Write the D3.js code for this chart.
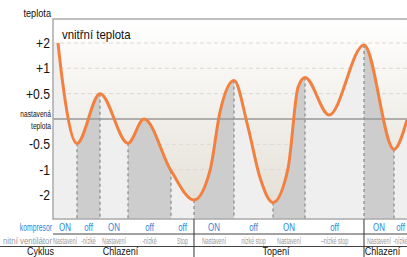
<!DOCTYPE html>
<html><head><meta charset="utf-8">
<script src="https://cdn.jsdelivr.net/npm/d3@7"></script>
<style>
body{margin:0;background:#fff;}
svg{display:block;font-family:"Liberation Sans",Arial,sans-serif;}
</style></head><body>
<div id="chart"></div>
<script>
// indoor temperature curve: time (0-100) and offset from set point
const curveTime = [1.41, 2.54, 6.78, 13.28, 21.19, 25.71, 33.33, 39.83, 44.35, 47.18, 51.13, 55.08, 58.47, 62.15, 66.38, 69.21, 71.19, 77.97, 87.85, 96.33, 100];
const curveTemp = [2.0, 0.82, -0.48, 0.5, -0.48, 0, -1.04, -2.2, -1.04, 0.14, 0.76, -0.16, -1.31, -2.3, -0.98, 0.62, 0.82, 0.08, 1.92, -0.6, -0.02];

const tickValues = [2, 1, 0.5, 0, -0.5, -1, -2];
const tickLabels = ['+2', '+1', '+0.5', 'nastavená|teplota', '-0.5', '-1', '-2'];

const phaseBreaks = [0, 6.78, 13.28, 21.19, 33.33, 39.83, 51.13, 62.15, 71.19, 87.85, 96.33, 100];
const kompresor = ['ON', 'off', 'ON', 'off', 'off', 'ON', 'off', 'ON', 'off', 'ON', 'off'];
const ventilator = ['Nastavení', '-nízké', 'Nastavení', '-nízké', 'Stop', 'Nastavení', 'nízké stop', 'Nastavení', '–nízké stop', 'Nastavení', '-nízké'];

const cycles = ['Chlazení', 'Topení', 'Chlazení'];
const cycleBreaks = [0, 39.83, 87.85, 100];

const W = 407, H = 257;
const margin = {top: 19, left: 53};
const plotH = 200, pad = 24;
const plotBottom = margin.top + plotH;
const step = (plotH - 2 * pad) / (tickValues.length - 1);

const x = d3.scaleLinear().domain([0, 100]).range([margin.left, W]);
const y = d3.scaleLinear()
  .domain(tickValues)
  .range(tickValues.map((d, i) => margin.top + pad + i * step));

const points = curveTime.map((t, i) => ({t: t, v: curveTemp[i]}));

const svg = d3.select('#chart').append('svg')
  .attr('width', W)
  .attr('height', H);

// condensed text: translate to anchor point, then squeeze horizontally
function squeeze(px, py, sx) {
  return 'translate(' + px + ',' + py + ') scale(' + sx + ',1)';
}
function label(parent, px, py, s, size, sx, anchor, fill) {
  return parent.append('text')
    .attr('transform', squeeze(px, py, sx))
    .attr('text-anchor', anchor || 'start')
    .attr('font-size', size)
    .attr('fill', fill || '#111')
    .text(s);
}

const defs = svg.append('defs');
const grad = defs.append('linearGradient')
  .attr('id', 'bg')
  .attr('x1', 0).attr('y1', 0).attr('x2', 0).attr('y2', 1);
grad.append('stop').attr('offset', '0%').attr('stop-color', '#ffffff');
grad.append('stop').attr('offset', '100%').attr('stop-color', '#e5e1d8');

const line = d3.line()
  .curve(d3.curveMonotoneX)
  .x(d => x(d.t))
  .y(d => y(d.v));

const above = d3.area()
  .curve(d3.curveMonotoneX)
  .x(d => x(d.t))
  .y0(margin.top)
  .y1(d => y(d.v));

const abovePts = [{t: 0, v: curveTemp[0]}].concat(points);

defs.append('clipPath').attr('id', 'aboveClip')
  .append('path').attr('d', above(abovePts));

// phase bands under the curve
const phases = d3.range(kompresor.length).map(i => ({
  i: i, t0: phaseBreaks[i], t1: phaseBreaks[i + 1]
}));

svg.append('g').selectAll('rect')
  .data(phases)
  .join('rect')
  .attr('x', d => x(d.t0))
  .attr('y', margin.top)
  .attr('width', d => x(d.t1) - x(d.t0))
  .attr('height', plotH)
  .attr('fill', d => d.i % 2 ? '#cdcdcd' : '#efefef');

svg.append('path')
  .attr('d', above(abovePts))
  .attr('fill', 'url(#bg)');

// grid
svg.append('g')
  .attr('clip-path', 'url(#aboveClip)')
  .selectAll('line')
  .data(tickValues.filter(d => d !== 0))
  .join('line')
  .attr('x1', margin.left).attr('x2', W)
  .attr('y1', d => y(d)).attr('y2', d => y(d))
  .attr('stroke', '#dcdad4')
  .attr('stroke-dasharray', '4,3');

// dashed phase boundaries from curve down
const valueAt = t => d3.least(points, p => Math.abs(p.t - t)).v;
svg.append('g').selectAll('line')
  .data(phaseBreaks.slice(1, -1))
  .join('line')
  .attr('x1', d => x(d)).attr('x2', d => x(d))
  .attr('y1', d => y(valueAt(d))).attr('y2', plotBottom)
  .attr('stroke', '#888')
  .attr('stroke-width', 1.2)
  .attr('stroke-dasharray', '3,3');

// set point line
svg.append('line')
  .attr('x1', margin.left).attr('x2', W)
  .attr('y1', y(0)).attr('y2', y(0))
  .attr('stroke', '#999')
  .attr('stroke-width', 1.5);

// frame
svg.append('path')
  .attr('d', d3.line()([[W, margin.top], [margin.left, margin.top], [margin.left, plotBottom], [W, plotBottom]]))
  .attr('fill', 'none')
  .attr('stroke', '#aaa')
  .attr('stroke-width', 1.5);

svg.append('path')
  .datum(points)
  .attr('d', line)
  .attr('fill', 'none')
  .attr('stroke', '#f28141')
  .attr('stroke-width', 3);

// y labels
const yl = svg.append('g');
label(yl, 51, 17, 'teplota', 10, 0.92, 'end');

tickValues.forEach((v, i) => {
  const lab = tickLabels[i];
  if (lab.indexOf('|') >= 0) {
    lab.split('|').forEach((s, k) => {
      label(yl, 51, y(v) - 2 + k * 12, s, 9.5, 0.7, 'end');
    });
  } else {
    label(yl, 50, y(v) + 5, lab, 14, 0.87, 'end');
  }
});

label(svg, 62, 39, 'vnitřní teplota', 13, 0.88);

// table below
const rowK = 231, rowV = 243.5, rowC = 255;

svg.append('line')
  .attr('x1', margin.left).attr('x2', W)
  .attr('y1', 234).attr('y2', 234)
  .attr('stroke', '#444');
svg.append('line')
  .attr('x1', 0).attr('x2', W)
  .attr('y1', 246.5).attr('y2', 246.5)
  .attr('stroke', '#444');

svg.append('g').selectAll('line')
  .data(cycleBreaks.slice(1, -1))
  .join('line')
  .attr('x1', d => x(d)).attr('x2', d => x(d))
  .attr('y1', plotBottom).attr('y2', H)
  .attr('stroke', '#333');

label(svg, 52, rowK, 'kompresor', 10.5, 0.65, 'end', '#2b86d6');
label(svg, 52, rowV, 'nitní ventilátor', 9.5, 0.83, 'end', '#999');
label(svg, 27, rowC, 'Cyklus', 11, 0.82);

svg.append('g').selectAll('text')
  .data(phases)
  .join('text')
  .attr('transform', d => squeeze(x((d.t0 + d.t1) / 2), rowK, 0.72))
  .attr('text-anchor', 'middle')
  .attr('font-size', 11)
  .attr('fill', '#2b86d6')
  .text(d => kompresor[d.i]);

svg.append('g').selectAll('text')
  .data(phases)
  .join('text')
  .attr('transform', d => squeeze(x((d.t0 + d.t1) / 2), rowV, 0.56))
  .attr('text-anchor', 'middle')
  .attr('font-size', 9.5)
  .attr('fill', '#999')
  .text(d => ventilator[d.i]);

svg.append('g').selectAll('text')
  .data(cycles)
  .join('text')
  .attr('transform', (d, i) => squeeze(x((cycleBreaks[i] + cycleBreaks[i + 1]) / 2) - 3, rowC, 0.82))
  .attr('text-anchor', 'middle')
  .attr('font-size', 11)
  .attr('fill', '#111')
  .text(d => d);
</script>
</body></html>
